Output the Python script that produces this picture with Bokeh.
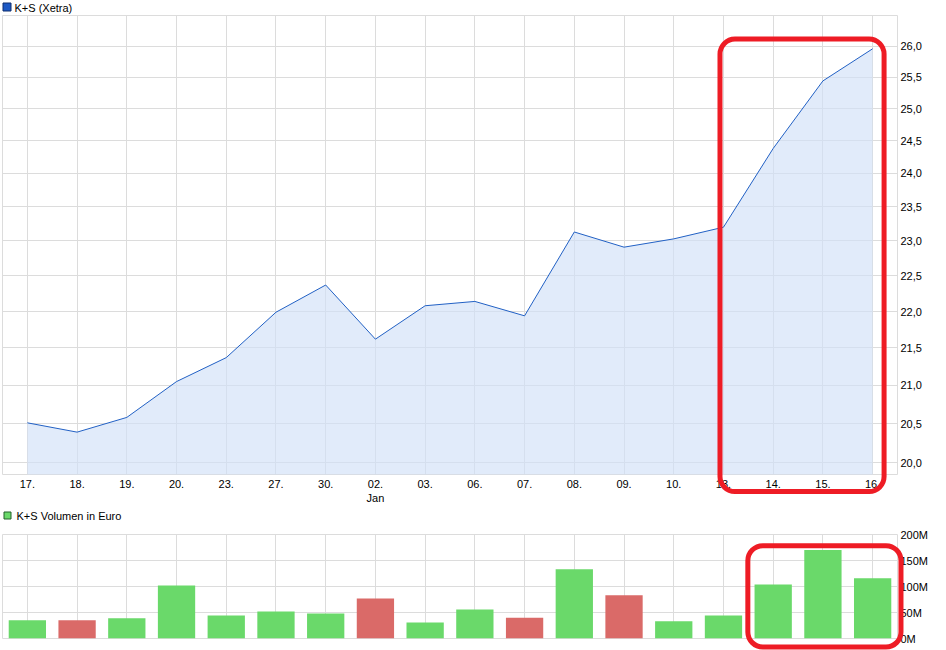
import math
from bokeh.plotting import figure
from bokeh.models import (FixedTicker, BoxAnnotation, ColumnDataSource,
                          Range1d, GridBox)
from bokeh.layouts import column
from bokeh.core.properties import value
from bokeh.embed import file_html
from bokeh.resources import INLINE

# ---------------- data ----------------
dates = ["17.", "18.", "19.", "20.", "23.", "27.", "30.", "02.\nJan", "03.",
         "06.", "07.", "08.", "09.", "10.", "13.", "14.", "15.", "16."]
price = [20.51, 20.39, 20.58, 21.05, 21.37, 21.99, 22.37, 21.62, 22.08,
         22.14, 21.94, 23.13, 22.91, 23.03, 23.20, 24.38, 25.44, 25.96]
volume_mio = [35, 35, 39, 102, 44, 52, 48, 77, 31,
              56, 40, 133, 83, 33, 44, 104, 170, 116]
volume_dir = ["up", "down", "up", "up", "up", "up", "up", "down", "up",
              "up", "down", "up", "down", "up", "up", "up", "up", "up"]
price_ticks = [20.0, 20.5, 21.0, 21.5, 22.0, 22.5, 23.0, 23.5, 24.0,
               24.5, 25.0, 25.5, 26.0]
price_tick_labels = ["20,0", "20,5", "21,0", "21,5", "22,0", "22,5", "23,0",
                     "23,5", "24,0", "24,5", "25,0", "25,5", "26,0"]
volume_ticks = [0, 50, 100, 150, 200]
volume_tick_labels = ["0M", "50M", "100M", "150M", "200M"]
legend_labels = ["K+S (Xetra)", "K+S Volumen in Euro"]

# highlight boxes, in data units (index along x, price / volume along y)
hl_price = dict(left=13.93, right=17.23, bottom=19.64, top=26.12)
hl_volume = dict(left=14.49, right=17.57, bottom=-16.4, top=178.6)

# ---------------- styling / geometry ----------------
FONT = "Liberation Sans"
GRID = "#DCDCDC"
LINE_BLUE = "#2160C4"
FILL_BLUE = "#D1E0F7"
GREEN = "#6AD96A"
RED = "#DA6A68"
HL_RED = "#EE1C25"
dir_color = {"up": GREEN, "down": RED}

W, H = 946, 650
LEFT, RIGHT_B = 2, 49                 # frame left / right border
H1, TOP1, BOT1 = 508, 15, 34          # price chart canvas
H2, TOP2, BOT2 = H - H1, 26, 12       # volume chart canvas
X0, X1 = -0.5, 17.5
P_LO, P_HI = 19.853, 26.51
V_LO, V_HI = 0, 200

x_idx = list(range(len(dates)))

src1 = ColumnDataSource(dict(x=x_idx, price=price))
src2 = ColumnDataSource(dict(x=x_idx, vol=volume_mio,
                             color=[dir_color[d] for d in volume_dir]))


def style(p):
    p.background_fill_color = "white"
    p.border_fill_color = "white"
    p.outline_line_color = GRID
    p.outline_line_width = 1
    p.xgrid.grid_line_color = GRID
    p.ygrid.grid_line_color = GRID
    for ax in (p.xaxis, p.yaxis):
        ax.axis_line_color = None
        ax.major_tick_line_color = None
        ax.minor_tick_line_color = None
        ax.major_tick_out = 0
        ax.major_tick_in = 0
        ax.minor_tick_out = 0
        ax.minor_tick_in = 0
        ax.major_label_text_font = FONT
        ax.major_label_text_font_size = "11px"
        ax.major_label_text_color = "black"
    p.yaxis.major_label_standoff = 3
    p.xaxis.major_label_standoff = 3


# ---------------- price chart ----------------
p1 = figure(width=W, height=H1, x_range=Range1d(X0, X1),
            y_range=Range1d(P_LO, P_HI), y_axis_type="log",
            y_axis_location="right", output_backend="svg",
            toolbar_location=None, min_border_left=LEFT,
            min_border_right=RIGHT_B, min_border_top=TOP1,
            min_border_bottom=BOT1)
p1.varea(x="x", y1=19.0, y2="price", source=src1, fill_color=FILL_BLUE,
         fill_alpha=0.66)
p1.line(x="x", y="price", source=src1, line_color=LINE_BLUE, line_width=1)
p1.xaxis.ticker = FixedTicker(ticks=x_idx)
p1.xaxis.major_label_overrides = {i: d for i, d in zip(x_idx, dates)}
p1.yaxis.ticker = FixedTicker(ticks=price_ticks)
p1.yaxis.major_label_overrides = {t: l for t, l in zip(price_ticks, price_tick_labels)}
style(p1)

# ---------------- volume chart ----------------
p2 = figure(width=W, height=H2, x_range=p1.x_range,
            y_range=Range1d(V_LO, V_HI), y_axis_location="right",
            output_backend="svg", toolbar_location=None,
            min_border_left=LEFT, min_border_right=RIGHT_B,
            min_border_top=TOP2, min_border_bottom=BOT2)
p2.vbar(x="x", top="vol", width=0.75, source=src2, fill_color="color",
        line_color=None)
p2.xaxis.visible = False
p2.xgrid.ticker = FixedTicker(ticks=x_idx)
p2.yaxis.ticker = FixedTicker(ticks=volume_ticks)
p2.yaxis.major_label_overrides = {t: l for t, l in zip(volume_ticks, volume_tick_labels)}
style(p2)

# ---------------- overlay (legends + highlight frames) ----------------
# page-pixel coordinates derived from the chart geometry above
fw = W - LEFT - RIGHT_B
fh1 = H1 - TOP1 - BOT1
fh2 = H2 - TOP2 - BOT2


def px_x(i):
    return LEFT + (i - X0) / (X1 - X0) * fw


def px_y_price(v):
    return TOP1 + (math.log(P_HI) - math.log(v)) / (math.log(P_HI) - math.log(P_LO)) * fh1


def px_y_vol(v):
    return H1 + TOP2 + (V_HI - v) / (V_HI - V_LO) * fh2


ov = figure(width=W, height=H, x_range=Range1d(0, W), y_range=Range1d(H, 0),
            x_axis_location=None, y_axis_location=None, min_border=0,
            output_backend="svg", toolbar_location=None)
ov.grid.visible = False
ov.outline_line_color = None
ov.background_fill_color = None
ov.border_fill_color = None

# legend squares + labels
ov.quad(left=[2.5, 3.5], right=[10.5, 10.5], top=[2.5, 511.5],
        bottom=[10.5, 518.5], fill_color=["#1D59C4", GREEN],
        line_color=["#0E2F6E", "#23602A"], line_width=1)
ov.text(x=[14, 16], y=[7, 515.5], text=legend_labels,
        text_font=value(FONT), text_font_size="11px", text_color="black",
        text_baseline="middle", text_align="left")

for box, fy in ((hl_price, px_y_price), (hl_volume, px_y_vol)):
    ov.add_layout(BoxAnnotation(left=px_x(box["left"]), right=px_x(box["right"]),
                                top=fy(box["top"]), bottom=fy(box["bottom"]),
                                fill_color=None, line_color=HL_RED,
                                line_alpha=1.0, line_width=5,
                                border_radius=15, level="overlay"))

charts = column(p1, p2, spacing=0)
layout = GridBox(children=[(charts, 0, 0), (ov, 0, 0)])
open("out.html", "w").write(file_html(layout, INLINE))
